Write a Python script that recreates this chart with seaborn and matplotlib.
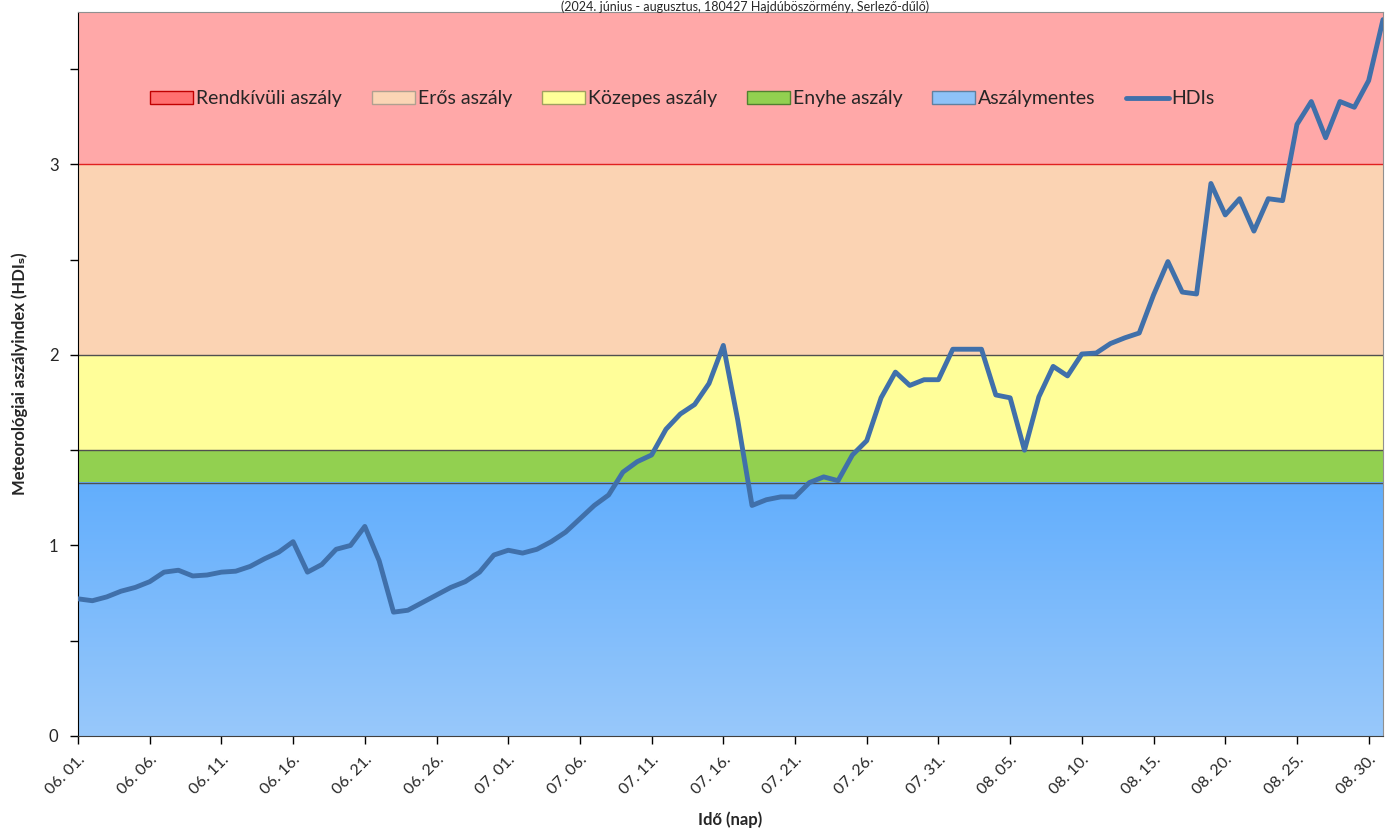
import numpy as np
import pandas as pd
import seaborn as sns
import matplotlib.pyplot as plt
from matplotlib.patches import Patch
from matplotlib.lines import Line2D
from matplotlib.colors import LinearSegmentedColormap

# daily HDIs values, 2024.06.01 - 2024.08.31
hdi = [0.72, 0.71, 0.73, 0.76, 0.78, 0.81, 0.86, 0.87, 0.84, 0.845,
       0.86, 0.865, 0.89, 0.93, 0.965, 1.02, 0.86, 0.90, 0.98, 1.00,
       1.10, 0.92, 0.65, 0.66, 0.70, 0.74, 0.78, 0.81, 0.86, 0.95,
       0.975, 0.96, 0.98, 1.02, 1.07, 1.14, 1.21, 1.265, 1.385, 1.44,
       1.475, 1.61, 1.69, 1.74, 1.85, 2.05, 1.66, 1.21, 1.24, 1.255,
       1.255, 1.33, 1.36, 1.34, 1.475, 1.55, 1.775, 1.91, 1.84, 1.87,
       1.87, 2.03, 2.03, 2.03, 1.79, 1.775, 1.50, 1.78, 1.94, 1.89,
       2.005, 2.01, 2.06, 2.09, 2.115, 2.315, 2.49, 2.33, 2.32, 2.90,
       2.735, 2.82, 2.65, 2.82, 2.81, 3.21, 3.33, 3.14, 3.33, 3.30,
       3.44, 3.76]
dates = pd.date_range("2024-06-01", periods=len(hdi), freq="D")

# drought categories (lower, upper)
cat_names = ["Rendkívüli aszály", "Erős aszály", "Közepes aszály", "Enyhe aszály", "Aszálymentes"]
cat_low = [3.0, 2.0, 1.5, 1.33, 0.0]
cat_high = [3.8, 3.0, 2.0, 1.5, 1.33]
band_colors = ["#FFA8A8", "#FBD3B3", "#FFFE99", "#92D050", "#66B0FD"]
legend_colors = ["#FF7070", "#FBD5B5", "#FFFF99", "#92D050", "#8EC2F8"]
legend_edges = ["#C00000", "#B0A090", "#A0A060", "#508030", "#6080A0"]

df = pd.DataFrame({"day": np.arange(len(hdi)), "HDIs": hdi})

sns.set_style("white")
plt.rcParams["font.family"] = ["Lato", "DejaVu Sans"]

fig = plt.figure(figsize=(13.89, 8.34), dpi=100)
ax = fig.add_axes([78 / 1389, 98 / 834, 1305 / 1389, 724 / 834])

ymax = 3.8
for lo, hi, c in zip(cat_low, cat_high, band_colors):
    if lo > 0:
        ax.axhspan(lo, hi, color=c, zorder=0, lw=0)
# gradient for the drought-free band
grad = LinearSegmentedColormap.from_list("blue", ["#98C8FA", "#62AEFD"])
ax.imshow(np.linspace(0, 1, 200).reshape(-1, 1), cmap=grad, origin="lower",
          extent=[-0.5, len(hdi) - 0.5, 0, cat_high[-1]], aspect="auto", zorder=0)

for lo in cat_low[:-1]:
    ax.axhline(lo, color="#E02020" if lo == 3.0 else "#505050", lw=1, zorder=1)

sns.lineplot(data=df, x="day", y="HDIs", ax=ax, color="#4070AA", lw=3.5,
             solid_joinstyle="round", solid_capstyle="round", zorder=3)

ax.set_xlim(0, len(hdi) - 1)
ax.set_ylim(0, ymax)

xt = np.arange(0, len(hdi), 5)
ax.set_xticks(xt)
ax.set_xticklabels([dates[i].strftime("%m. %d.") for i in xt], rotation=45,
                   ha="right", rotation_mode="anchor", fontsize=11.5)
ax.set_yticks([0, 1, 2, 3])
ax.set_yticklabels(["0", "1", "2", "3"], fontsize=12)
ax.set_yticks([0.5, 1.5, 2.5, 3.5], minor=True)
ax.tick_params(axis="both", which="both", direction="out", length=6, width=1,
               color="black", left=True, bottom=True)
ax.tick_params(axis="y", which="major", pad=8)
ax.tick_params(axis="x", which="major", pad=6)

for s in ["top", "right"]:
    ax.spines[s].set_color("#909090")
ax.spines["left"].set_color("black")
ax.spines["bottom"].set_color("#404040")

ax.set_xlabel("Idő (nap)", fontsize=12, fontweight="bold", labelpad=10)
ax.set_ylabel("Meteorológiai aszályindex (HDIₛ)", fontsize=12, fontweight="bold", labelpad=15)

handles = [Patch(facecolor=fc, edgecolor=ec, lw=1) for fc, ec in zip(legend_colors, legend_edges)]
handles.append(Line2D([0], [0], color="#4070AA", lw=3.5))
labels = cat_names + ["HDIs"]
ax.legend(handles, labels, loc="center left", bbox_to_anchor=(0.042, 0.880), ncol=6,
          frameon=False, fontsize=14, handlelength=2.2, handleheight=0.7,
          handletextpad=0.15, columnspacing=1.55)

fig.text(745 / 1389, 1.0, "(2024. június - augusztus, 180427 Hajdúböszörmény, Serlező-dűlő)",
         ha="center", va="top", fontsize=9)

fig.savefig("out.png", dpi=100)
